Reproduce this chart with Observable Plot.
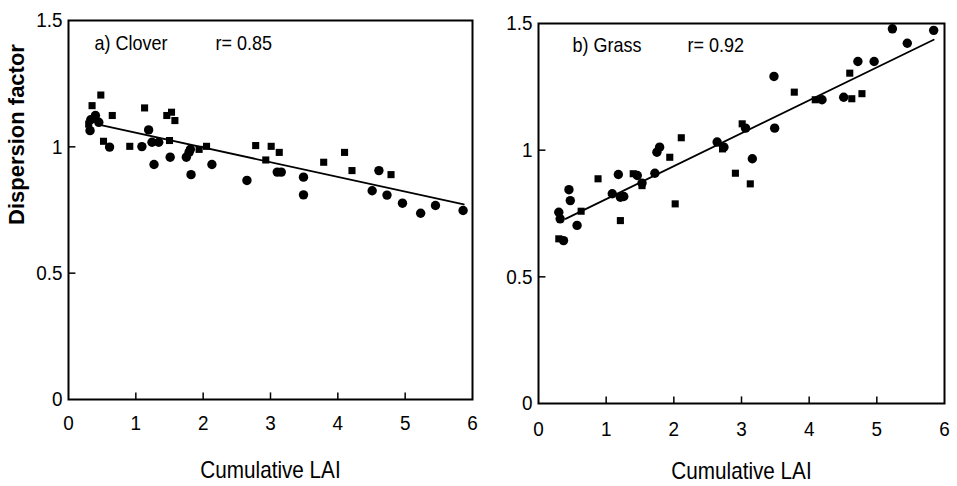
<!DOCTYPE html>
<html><head><meta charset="utf-8">
<script src="https://cdn.jsdelivr.net/npm/d3@7"></script>
<script src="https://cdn.jsdelivr.net/npm/@observablehq/plot@0.6"></script>
<style>
body{margin:0;background:#fff;}
#wrap{display:flex;width:957px;height:486px;}
</style></head><body><div id="wrap"></div>
<script>
// ---- Clover (panel a) ----
const cloverCircleX = [0.33,0.32,0.40,0.45,0.61,1.09,1.19,1.24,1.34,1.27,1.51,1.75,1.79,1.81,1.82,2.13,2.65,3.10,3.16,3.49,3.49,4.61,4.51,4.73,4.96,5.23,5.45,5.86];
const cloverCircleY = [1.107,1.064,1.124,1.097,0.999,1.001,1.067,1.018,1.018,0.930,0.959,0.959,0.978,0.990,0.890,0.930,0.867,0.900,0.900,0.880,0.810,0.906,0.826,0.809,0.777,0.737,0.768,0.748];
const cloverSquareX = [0.48,0.35,0.65,1.13,1.46,1.53,1.58,0.91,1.50,1.94,2.05,2.78,3.01,3.13,2.93,3.79,4.10,4.21,4.79,0.52,0.30];
const cloverSquareY = [1.205,1.163,1.124,1.154,1.124,1.137,1.104,1.002,1.025,0.990,1.002,1.005,1.002,0.978,0.948,0.939,0.978,0.906,0.890,1.022,1.090];
const cloverFitX = [0.50,5.87];
const cloverFitY = [1.085,0.772];
const cloverTitle = "a) Clover";
const cloverR = "r= 0.85";

// ---- Grass (panel b) ----
const grassCircleX = [5.23,5.84,5.45,4.72,4.96,3.48,4.51,4.19,3.49,3.06,2.64,2.74,3.16,1.79,1.75,1.72,1.18,1.46,1.53,1.09,1.26,1.21,0.45,0.47,0.30,0.32,0.57,0.37];
const grassCircleY = [1.479,1.473,1.422,1.350,1.350,1.291,1.209,1.199,1.087,1.087,1.032,1.012,0.966,1.012,0.992,0.909,0.904,0.900,0.870,0.828,0.817,0.814,0.844,0.801,0.755,0.729,0.703,0.643];
const grassSquareX = [4.60,3.78,4.78,4.63,4.09,2.11,1.94,0.88,2.91,3.13,1.40,3.01,2.72,0.63,0.30,1.21,1.53,2.02];
const grassSquareY = [1.304,1.229,1.223,1.203,1.199,1.049,0.972,0.887,0.909,0.867,0.907,1.104,1.005,0.759,0.650,0.722,0.860,0.788];
const grassFitX = [0.40,5.84];
const grassFitY = [0.729,1.436];
const grassTitle = "b) Grass";
const grassR = "r= 0.92";

// ---- shared axes ----
const xTicks = [0,1,2,3,4,5,6];
const yTicks = [0,0.5,1,1.5];
const xLabel = "Cumulative LAI";
const yLabel = "Dispersion factor";

const zip = (xs, ys) => xs.map((x,i)=>({x, y: ys[i]}));

function panel({width, ml, mr, mt, mb, circles, squares, fit, title, r, xPad, showY, titleDx, titleDy, rDx, labDy}) {
  const marks = [
    Plot.frame({stroke:"#000", strokeWidth:2}),
    Plot.ruleX(xTicks.slice(1,-1), {x: d=>d, y1: 0, y2: 0.026, stroke:"#000", strokeWidth:1.5}),
    Plot.ruleY(yTicks.slice(1,-1), {y: d=>d, x1: 0, x2: 0.11, stroke:"#000", strokeWidth:1.5}),
    Plot.axisX(xTicks, {tickSize:0, tickPadding:xPad, fontSize:21, tickFormat: d=>String(d), label:null}),
    Plot.axisY(yTicks, {tickSize:0, tickPadding:6, fontSize:21, tickFormat: d=>String(d), label:null}),
    Plot.line(zip(fit[0], fit[1]), {x:"x", y:"y", stroke:"#000", strokeWidth:1.8}),
    Plot.dot(squares, {x:"x", y:"y", symbol:"square", r:4, fill:"#000", stroke:null}),
    Plot.dot(circles, {x:"x", y:"y", symbol:"circle", r:4.7, fill:"#000", stroke:null}),
    Plot.text([title], {frameAnchor:"top-left", lineAnchor:"middle", dx:titleDx, dy:titleDy, fontSize:20, textAnchor:"start", fill:"#000"}),
    Plot.text([r], {frameAnchor:"top-left", lineAnchor:"middle", dx:rDx, dy:titleDy, fontSize:20, textAnchor:"start", fill:"#000"}),
    Plot.text([xLabel], {frameAnchor:"bottom", lineAnchor:"middle", dy:labDy, fontSize:23, fill:"#000"})
  ];
  if (showY) marks.push(Plot.text([yLabel], {frameAnchor:"left", lineAnchor:"middle", dx:-52, dy:15, rotate:-90, fontSize:22, fontWeight:"bold", fill:"#000"}));
  return Plot.plot({
    width, height:486, marginLeft:ml, marginRight:mr, marginTop:mt, marginBottom:mb,
    x:{domain:[0,6]}, y:{domain:[0,1.5]},
    style:{background:"#fff", color:"#000", overflow:"visible", fontFamily:"'Liberation Sans', Arial, sans-serif", fontSize:"21px"},
    marks
  });
}

// horizontally condense non-rotated text (the original uses a narrow face)
function condense(svg, s) {
  svg.querySelectorAll("text").forEach(t => {
    const tr = t.getAttribute("transform") || "";
    if (/rotate/.test(tr)) return;
    const bb = t.getBBox();
    const anchor = getComputedStyle(t).textAnchor;
    const ax = anchor === "end" ? bb.x + bb.width : anchor === "middle" ? bb.x + bb.width/2 : bb.x;
    t.setAttribute("transform", `${tr} translate(${ax},0) scale(${s},1) translate(${-ax},0)`);
  });
}

const wrap = document.getElementById("wrap");
const left = panel({width:490, ml:68, mr:18, mt:20, mb:87,
  circles: zip(cloverCircleX, cloverCircleY), squares: zip(cloverSquareX, cloverSquareY),
  fit:[cloverFitX, cloverFitY], title:cloverTitle, r:cloverR, xPad:16, showY:true,
  titleDx:26, titleDy:23, rDx:147, labDy:71});
const right = panel({width:467, ml:48, mr:13, mt:23, mb:83,
  circles: zip(grassCircleX, grassCircleY), squares: zip(grassSquareX, grassSquareY),
  fit:[grassFitX, grassFitY], title:grassTitle, r:grassR, xPad:18, showY:false,
  titleDx:34, titleDy:22, rDx:149, labDy:68});
wrap.append(left, right);
condense(left, 0.9);
condense(right, 0.9);
</script></body></html>
